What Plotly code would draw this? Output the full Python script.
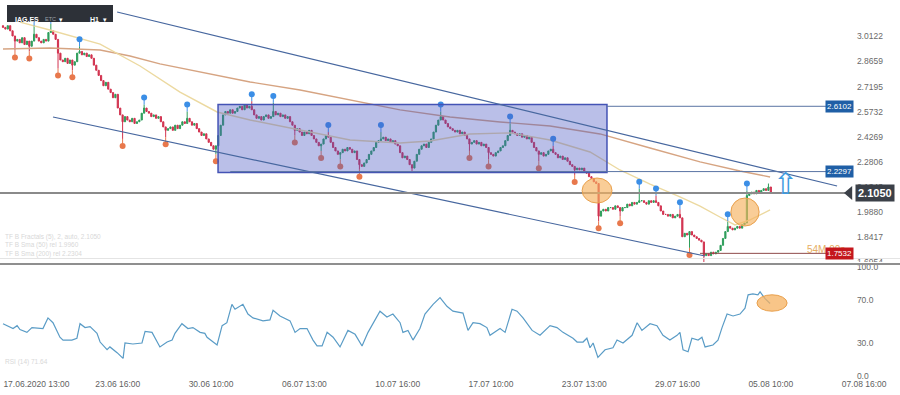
import plotly.graph_objects as go

# ---------------- DATA ----------------
# hourly closes (index = candle number)
close = [
    3.07, 3.06, 3.08, 3.05, 3.02, 2.99, 3.00, 2.98, 3.01, 2.97,
    2.99, 2.96, 2.99, 3.03, 3.01, 2.99, 2.98, 3.00, 2.99, 3.04,
    3.05, 3.03, 3.00, 2.92, 2.88, 2.87, 2.89, 2.86, 2.88, 2.85,
    2.87, 2.92, 2.93, 2.91, 2.92, 2.90, 2.91, 2.89, 2.85, 2.82,
    2.79, 2.76, 2.73, 2.75, 2.71, 2.69, 2.66, 2.68, 2.60, 2.56,
    2.52, 2.55, 2.53, 2.52, 2.54, 2.51, 2.52, 2.53, 2.57, 2.60,
    2.58, 2.57, 2.55, 2.56, 2.54, 2.55, 2.52, 2.49, 2.47, 2.48,
    2.49, 2.47, 2.50, 2.48, 2.50, 2.52, 2.51, 2.54, 2.52, 2.50,
    2.51, 2.48, 2.46, 2.44, 2.45, 2.42, 2.40, 2.38, 2.36, 2.38,
    2.44, 2.50, 2.56, 2.58, 2.57, 2.59, 2.57, 2.58, 2.60, 2.61,
    2.59, 2.62, 2.60, 2.61, 2.59, 2.56, 2.54, 2.55, 2.53, 2.55,
    2.56, 2.54, 2.55, 2.58, 2.56, 2.57, 2.55, 2.56, 2.54, 2.55,
    2.52, 2.50, 2.47, 2.48, 2.46, 2.44, 2.46, 2.45, 2.47, 2.44,
    2.42, 2.40, 2.38, 2.39, 2.42, 2.44, 2.43, 2.40, 2.37, 2.35,
    2.33, 2.34, 2.36, 2.35, 2.37, 2.36, 2.34, 2.35, 2.30, 2.27,
    2.26, 2.28, 2.30, 2.33, 2.35, 2.37, 2.40, 2.41, 2.42, 2.43,
    2.41, 2.42, 2.40, 2.41, 2.39, 2.38, 2.34, 2.31, 2.32, 2.30,
    2.27, 2.25, 2.29, 2.33, 2.36, 2.38, 2.39, 2.37, 2.40, 2.42,
    2.46, 2.50, 2.53, 2.55, 2.53, 2.51, 2.49, 2.48, 2.47, 2.46,
    2.47, 2.45, 2.46, 2.44, 2.42, 2.39, 2.40, 2.41, 2.39, 2.40,
    2.38, 2.39, 2.37, 2.34, 2.33, 2.32, 2.34, 2.35, 2.37, 2.38,
    2.41, 2.44, 2.47, 2.46, 2.45, 2.44, 2.45, 2.43, 2.44, 2.42,
    2.43, 2.40, 2.37, 2.35, 2.33, 2.34, 2.32, 2.33, 2.35, 2.36,
    2.34, 2.33, 2.31, 2.32, 2.30, 2.31, 2.29, 2.27, 2.26, 2.24,
    2.25, 2.24, 2.25, 2.23, 2.22, 2.20, 2.19, 2.17, 2.16, 1.97,
    2.00, 2.01, 2.00, 2.02, 2.02, 2.01, 2.03, 2.02, 2.00, 2.02,
    2.02, 2.04, 2.03, 2.05, 2.04, 2.05, 2.06, 2.06, 2.05, 2.04,
    2.06, 2.05, 2.06, 2.05, 2.03, 2.00, 1.98, 1.98, 1.97, 1.98,
    1.96, 1.97, 1.98, 1.96, 1.85, 1.87, 1.86, 1.88, 1.86, 1.85,
    1.84, 1.83, 1.82, 1.74, 1.75, 1.74, 1.76, 1.75, 1.76, 1.77,
    1.80, 1.84, 1.88, 1.91, 1.90, 1.89, 1.90, 1.91, 1.90, 1.92,
    1.93, 2.09, 2.10, 2.11, 2.10, 2.12, 2.11, 2.12, 2.13, 2.12,
    2.14, 2.105,
]
first_open = 3.08
# wick extremes that reach beyond the candle body
spike_hi = {13: 3.08, 20: 3.09, 32: 2.96, 59: 2.62, 77: 2.58, 104: 2.64,
            113: 2.63, 136: 2.46, 158: 2.46, 183: 2.58, 212: 2.51, 230: 2.38,
            266: 2.13, 273: 2.09, 283: 2.01, 303: 1.94, 311: 2.12, 320: 2.16}
spike_lo = {5: 2.935, 11: 2.93, 23: 2.83, 29: 2.82, 50: 2.42, 68: 2.43,
            89: 2.33, 122: 2.44, 133: 2.35, 141: 2.30, 149: 2.24, 171: 2.23,
            195: 2.35, 203: 2.30, 224: 2.29, 239: 2.21, 249: 1.94, 258: 1.97,
            287: 1.785, 293: 1.70}
fractal_up = [13, 20, 32, 59, 77, 104, 113, 136, 158, 183, 212, 230, 266,
              273, 283, 303, 311]
fractal_dn = [5, 11, 23, 29, 50, 68, 89, 122, 133, 141, 149, 195, 203, 224,
              239, 249, 258, 287]

# moving averages (sampled)
ma_fast_idx = [7.1, 19.6, 40.6, 57.3, 74.0, 89.5, 103.3, 124.2, 145.1, 166.0,
               178.5, 195.2, 212.0, 228.7, 245.4, 257.9, 270.5, 283.0, 291.4,
               299.7, 306.0, 312.3, 320.7]
ma_fast_val = [3.101, 3.055, 2.973, 2.845, 2.693, 2.577, 2.530, 2.472, 2.414,
               2.396, 2.408, 2.449, 2.455, 2.414, 2.344, 2.239, 2.157, 2.082,
               2.029, 1.965, 1.919, 1.948, 2.006]
ma_slow_idx = [0, 19.6, 40.6, 53.1, 65.6, 82.4, 103.3, 124.2, 145.1, 166.0,
               186.9, 207.8, 228.7, 249.6, 270.5, 291.4, 308.1, 320.7]
ma_slow_val = [2.944, 2.950, 2.938, 2.903, 2.857, 2.810, 2.752, 2.705, 2.647,
               2.589, 2.548, 2.519, 2.495, 2.449, 2.367, 2.286, 2.233, 2.198]

# RSI (sampled)
rsi_idx = [0, 1.7, 4.2, 5.9, 7.1, 10.0, 12.1, 16.7, 18.8, 20.9, 23.8, 25.1,
           28.8, 30.9, 32.2, 34.3, 36.4, 39.3, 40.6, 43.5, 44.7, 47.7, 50.2,
           51.0, 54.3, 58.1, 59.4, 62.3, 65.6, 68.6, 70.7, 71.9, 74.8, 77.3,
           79.4, 82.4, 84.4, 85.3, 89.5, 91.6, 93.6, 95.7, 97.0, 100.3, 102.4,
           104.5, 108.7, 111.6, 112.9, 115.8, 120.0, 122.1, 124.2, 127.1,
           129.6, 131.3, 133.4, 135.5, 138.0, 140.9, 144.2, 147.2, 150.1,
           152.6, 157.6, 160.5, 163.0, 166.0, 167.2, 169.3, 171.4, 174.3,
           176.4, 179.8, 182.7, 185.6, 188.1, 192.3, 194.4, 196.5, 199.4,
           202.3, 203.6, 207.8, 209.9, 212.8, 214.9, 217.4, 221.2, 224.5,
           228.7, 231.6, 234.1, 238.3, 240.0, 242.5, 244.1, 245.4, 246.7,
           248.7, 251.7, 255.0, 256.7, 259.2, 263.0, 265.1, 267.1, 270.5,
           273.4, 275.9, 278.8, 281.8, 283.0, 284.3, 286.4, 288.0, 290.6,
           292.2, 293.5, 296.8, 298.9, 300.6, 302.7, 305.2, 308.1, 310.2,
           311.5, 313.5, 315.6, 316.5, 318.6, 320.7]
rsi_val = [47.8, 46.0, 43.3, 46.0, 42.4, 39.8, 44.2, 43.3, 53.1, 48.7, 35.3,
           32.7, 32.7, 34.4, 47.8, 44.2, 45.1, 38.9, 30.9, 23.8, 26.4, 21.1,
           15.8, 30.0, 29.1, 30.0, 40.7, 39.8, 26.4, 30.9, 32.7, 38.9, 47.8,
           43.3, 44.2, 39.8, 38.9, 35.3, 28.2, 46.0, 48.7, 65.6, 61.1, 65.6,
           56.7, 53.1, 50.4, 51.3, 60.2, 54.9, 50.4, 39.8, 43.3, 43.3, 32.7,
           27.3, 27.3, 39.8, 35.3, 26.4, 41.6, 38.0, 27.3, 39.8, 59.3, 54.0,
           56.7, 48.7, 39.8, 41.6, 32.7, 43.3, 56.7, 65.6, 71.8, 63.8, 59.3,
           57.6, 41.6, 48.7, 47.8, 44.2, 37.1, 43.3, 39.8, 61.1, 59.3, 53.1,
           41.6, 37.1, 46.0, 44.2, 39.8, 34.4, 30.9, 30.9, 34.4, 25.6, 30.0,
           16.7, 23.8, 25.6, 32.7, 30.0, 37.1, 48.7, 41.6, 47.8, 46.0, 37.1,
           32.7, 37.1, 39.8, 23.8, 22.0, 34.4, 32.7, 35.3, 26.4, 28.2, 32.7,
           44.2, 56.7, 54.9, 56.7, 62.0, 74.4, 75.3, 74.4, 77.1, 70.9, 66.4]

x_tick_idx = [14, 48, 87, 126, 165, 204, 243, 282, 321, 360]
x_tick_text = ["17.06.2020 13:00", "23.06 16:00", "30.06 10:00", "06.07 13:00",
               "10.07 16:00", "17.07 10:00", "23.07 13:00", "29.07 16:00",
               "05.08 10:00", "07.08 16:00"]
price_ticks = [3.0122, 2.8659, 2.7195, 2.5732, 2.4269, 2.2806, 2.1343,
               1.9880, 1.8417, 1.6954]
rsi_ticks = [0, 30, 70, 100]

level_top = 2.6102
level_box_low = 2.2297
last_price = 2.1050
support = 1.7532
box_idx = [89.9, 252.5]
box_price = [2.224, 2.620]
channel_upper = [(47.7, 3.1596), (348.7, 2.1456)]
channel_lower = [(20.9, 2.5477), (293.5, 1.7377)]

# ---------------- BUILD ----------------
idx = list(range(len(close)))
opens = [first_open] + close[:-1]
highs = [spike_hi.get(i, max(o, c)) for i, (o, c) in enumerate(zip(opens, close))]
lows = [spike_lo.get(i, min(o, c)) for i, (o, c) in enumerate(zip(opens, close))]

GREEN = "#2e9e5b"
RED = "#d2324f"
BLUE_PIN = "#3b8ee6"
ORANGE_PIN = "#e8784c"
PX = 1 / 171.6  # price per pixel on the price scale

fig = go.Figure()
fig.add_trace(go.Scatter(x=ma_slow_idx, y=ma_slow_val, mode="lines",
                         line=dict(color="#d6a482", width=1.4), hoverinfo="skip"))
fig.add_trace(go.Scatter(x=ma_fast_idx, y=ma_fast_val, mode="lines",
                         line=dict(color="#ecd9a0", width=1.4), hoverinfo="skip"))
fig.add_trace(go.Candlestick(
    x=idx, open=opens, high=highs, low=lows, close=close,
    increasing=dict(line=dict(color=GREEN, width=1), fillcolor=GREEN),
    decreasing=dict(line=dict(color=RED, width=1), fillcolor=RED),
    whiskerwidth=0, hoverinfo="skip"))

# fractal pins
ux, uy, sx, sy = [], [], [], []
for i in fractal_up:
    ux.append(i); uy.append(highs[i] + 7 * PX)
    sx += [i, i, None]; sy += [highs[i], highs[i] + 7 * PX, None]
fig.add_trace(go.Scatter(x=sx, y=sy, mode="lines", line=dict(color=BLUE_PIN, width=1),
                         hoverinfo="skip"))
fig.add_trace(go.Scatter(x=ux, y=uy, mode="markers",
                         marker=dict(color=BLUE_PIN, size=6, symbol="circle"),
                         hoverinfo="skip"))
dx, dy, tx, ty = [], [], [], []
for i in fractal_dn:
    dx.append(i); dy.append(lows[i] - 7 * PX)
    tx += [i, i, None]; ty += [lows[i], lows[i] - 7 * PX, None]
fig.add_trace(go.Scatter(x=tx, y=ty, mode="lines", line=dict(color=ORANGE_PIN, width=1),
                         hoverinfo="skip"))
fig.add_trace(go.Scatter(x=dx, y=dy, mode="markers",
                         marker=dict(color=ORANGE_PIN, size=6, symbol="circle"),
                         hoverinfo="skip"))

# RSI
fig.add_trace(go.Scatter(x=rsi_idx, y=rsi_val, mode="lines", yaxis="y2",
                         line=dict(color="#5a9cc6", width=1.2), hoverinfo="skip"))

shapes = []
# box
shapes.append(dict(type="rect", xref="x", yref="y", x0=box_idx[0], x1=box_idx[1],
                   y0=box_price[0], y1=box_price[1],
                   fillcolor="rgba(74,86,195,0.38)",
                   line=dict(color="#4453b5", width=1.5), layer="above"))
# channel
for (a, b) in (channel_upper, channel_lower):
    shapes.append(dict(type="line", xref="x", yref="y", x0=a[0], y0=a[1], x1=b[0], y1=b[1],
                       line=dict(color="#47679f", width=1.2), layer="above"))
# horizontal levels
shapes.append(dict(type="line", xref="x", yref="y", x0=box_idx[1], x1=344.5,
                   y0=level_top, y1=level_top, line=dict(color="#5a73a3", width=1),
                   layer="above"))
shapes.append(dict(type="line", xref="x", yref="y", x0=95, x1=344.5,
                   y0=level_box_low, y1=level_box_low, line=dict(color="#5a73a3", width=1),
                   layer="above"))
shapes.append(dict(type="line", xref="x", yref="y", x0=-2, x1=352,
                   y0=last_price, y1=last_price, line=dict(color="#8a8a8a", width=2),
                   layer="above"))
shapes.append(dict(type="line", xref="x", yref="y", x0=291.4, x1=344.5,
                   y0=support, y1=support, line=dict(color="#8e4a4a", width=1),
                   layer="above"))
# faint line and panel separator
shapes.append(dict(type="line", xref="paper", yref="paper", x0=0, x1=1,
                   y0=1 - 258.5 / 377, y1=1 - 258.5 / 377,
                   line=dict(color="#e4e4e4", width=1)))
shapes.append(dict(type="line", xref="paper", yref="paper", x0=0, x1=1,
                   y0=1 - 264 / 377, y1=1 - 264 / 377,
                   line=dict(color="#8f8f8f", width=1.8), layer="above"))
# ellipses
shapes.append(dict(type="circle", xref="x", yref="y", x0=242.1, x1=254.6,
                   y0=2.0466, y1=2.1922, fillcolor="rgba(246,178,96,0.65)",
                   line=dict(color="#e9a04c", width=1), layer="above"))
shapes.append(dict(type="circle", xref="x", yref="y", x0=304.3, x1=316.1,
                   y0=1.9125, y1=2.0757, fillcolor="rgba(246,178,96,0.65)",
                   line=dict(color="#e9a04c", width=1), layer="above"))
shapes.append(dict(type="circle", xref="x", yref="y2", x0=315.2, x1=327.8,
                   y0=59.3, y1=74.4, fillcolor="rgba(246,178,96,0.75)",
                   line=dict(color="#e9a04c", width=1), layer="above"))
# last price badge pointer
shapes.append(dict(type="path", xref="x", yref="y",
                   path=f"M 351.6 {last_price} L 355.0 {last_price + 7 * PX} "
                        f"L 355.0 {last_price - 7 * PX} Z",
                   fillcolor="#3b4048", line=dict(width=0), layer="above"))
# header box
shapes.append(dict(type="rect", xref="paper", yref="paper", x0=7 / 900, x1=113 / 900,
                   y0=1 - 22 / 377, y1=1 - 5 / 377, fillcolor="#2d3138",
                   line=dict(width=0), layer="above"))

ann = []
FONT = "Liberation Sans"
ann.append(dict(x=335.3, y=1.7785, xref="x", yref="y", text="54M 00s", showarrow=False,
                xanchor="left", font=dict(family=FONT, size=10, color="#e6ad62")))
for lvl, bg in ((level_top, "#1f5fa6"), (level_box_low, "#1f5fa6"), (support, "#c4161c")):
    ann.append(dict(x=349.9, y=lvl, xref="x", yref="y", text=f"{lvl:.4f}", showarrow=False,
                    bgcolor=bg, borderpad=1, font=dict(family=FONT, size=8, color="white")))
ann.append(dict(x=364.6, y=last_price, xref="x", yref="y", text=f"<b>{last_price:.4f}</b>",
                showarrow=False, bgcolor="#3b4048", borderpad=2,
                font=dict(family=FONT, size=11, color="white")))
ann.append(dict(x=327, y=2.163, xref="x", yref="y", text="\u21e7", showarrow=False,
                font=dict(family="DejaVu Sans", size=30, color="#3f9be0")))
# header texts
hy = 1 - 13.5 / 377
ann.append(dict(x=13 / 900, y=hy, xref="paper", yref="paper", text="<b>IAG.ES</b>",
                showarrow=False, xanchor="left", font=dict(family=FONT, size=7, color="white")))
ann.append(dict(x=43 / 900, y=hy, xref="paper", yref="paper", text="ETC",
                showarrow=False, xanchor="left", font=dict(family=FONT, size=5.5, color="#9aa0a8")))
ann.append(dict(x=61 / 900, y=hy, xref="paper", yref="paper", text="\u25be",
                showarrow=False, xanchor="center", font=dict(family="DejaVu Sans", size=7, color="white")))
ann.append(dict(x=88 / 900, y=hy, xref="paper", yref="paper", text="<b>H1</b>",
                showarrow=False, xanchor="left", font=dict(family=FONT, size=7, color="white")))
ann.append(dict(x=105 / 900, y=hy, xref="paper", yref="paper", text="\u25be",
                showarrow=False, xanchor="center", font=dict(family="DejaVu Sans", size=7, color="white")))
# faint indicator legends
for k, t in enumerate(["TF B Fractals (5), 2, auto, 2.1050",
                       "TF B Sma (50) rel 1.9960",
                       "TF B Sma (200) rel 2.2304"]):
    ann.append(dict(x=3 / 900, y=1 - (237 + 8.5 * k) / 377, xref="paper", yref="paper", text=t,
                    showarrow=False, xanchor="left", yanchor="middle",
                    font=dict(family=FONT, size=6.5, color="#d8d8d8")))
ann.append(dict(x=3 / 900, y=1 - 368 / 377, xref="paper", yref="paper", text="RSI (14) 71.64",
                showarrow=False, xanchor="left", font=dict(family=FONT, size=6.5, color="#d8d8d8")))

fig.update_layout(
    width=900, height=395, margin=dict(l=0, r=0, t=0, b=18),
    paper_bgcolor="white", plot_bgcolor="white", showlegend=False,
    shapes=shapes, annotations=ann,
    xaxis=dict(domain=[0, 1], range=[-1.254, 375.0], anchor="y2",
               tickmode="array", tickvals=x_tick_idx, ticktext=x_tick_text,
               showgrid=False, zeroline=False, showline=False, ticks="",
               ticklabeloverflow="allow",
               rangeslider=dict(visible=False),
               tickfont=dict(family=FONT, size=8.5, color="#5f5f5f")),
    yaxis=dict(domain=[112 / 377, 1], range=[1.6853, 3.2296], anchor="free",
               position=0.951, side="right", tickmode="array", tickvals=price_ticks,
               tickformat=".4f", showgrid=False, zeroline=False, showline=False, ticks="",
               ticklabelshift=-1, ticklabeloverflow="allow",
               tickfont=dict(family=FONT, size=8.5, color="#6a6a6a")),
    yaxis2=dict(domain=[0, 115 / 377], range=[-1.3, 104.6], anchor="free",
                position=0.951, side="right", tickmode="array", tickvals=rsi_ticks,
                tickformat=".1f", showgrid=False, zeroline=False, showline=False, ticks="",
                ticklabeloverflow="allow",
                tickfont=dict(family=FONT, size=8.5, color="#6a6a6a")),
)

fig.write_html("out.html", config={"displayModeBar": False},
               post_script="document.body.style.margin='0px';document.body.style.padding='0px';")
